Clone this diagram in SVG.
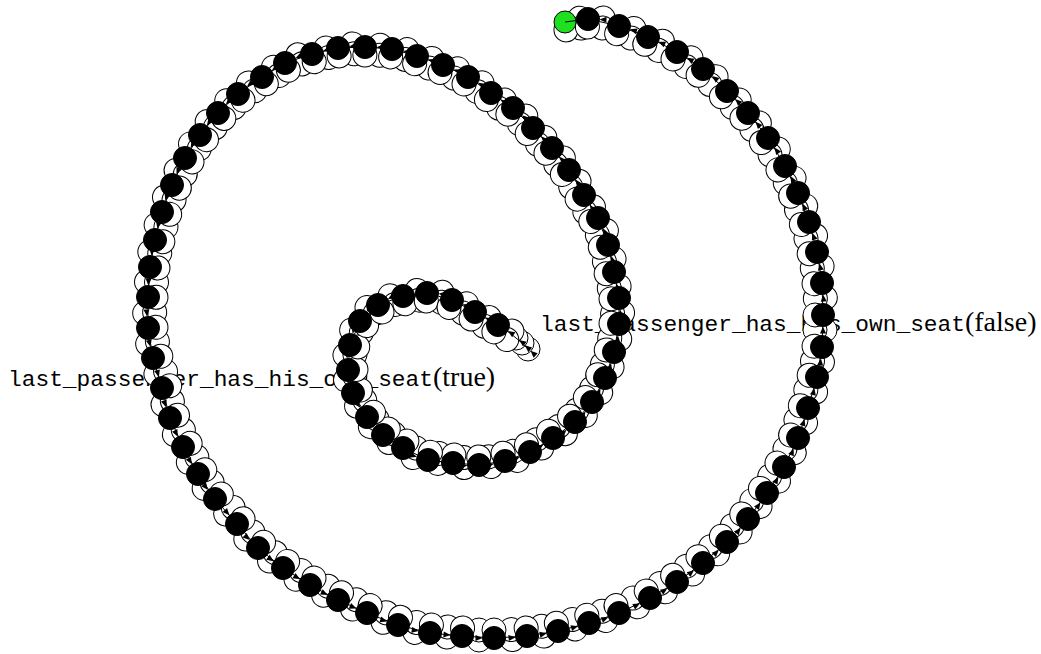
<svg xmlns="http://www.w3.org/2000/svg" xmlns:xlink="http://www.w3.org/1999/xlink" width="1041" height="654" viewBox="0 0 1041 654">
<style>
.w{fill:#fff;stroke:#000;stroke-width:1}
.b{fill:#000;stroke:#000;stroke-width:1}
.g{fill:#1fe01f;stroke:#000;stroke-width:1}
.e{fill:none;stroke:#000;stroke-width:1;marker-mid:url(#ah);marker-end:url(#ah)}
.lbl{fill:#000}
.mono{font-family:"Liberation Mono","DejaVu Sans Mono",monospace;font-size:22.85px}
.rm{font-family:"Liberation Serif","DejaVu Serif",serif;font-size:28px}
</style>
<defs>
<g id="wp"><circle class="w" cx="15" cy="-2" r="12"/><circle class="w" cx="15" cy="8" r="12"/><circle class="w" cx="0" cy="8" r="12"/></g>
<marker id="ah" markerUnits="userSpaceOnUse" orient="auto" refX="11.5" refY="0" markerWidth="10" markerHeight="10" overflow="visible"><path d="M0,0 L-7,-3 L-7,3 Z" fill="#000"/></marker>
</defs>
<g id="labels">
<text class="lbl" x="8" y="386"><tspan class="mono">last_passenger_has_his_own_seat</tspan><tspan class="rm">(true)</tspan></text>
<text class="lbl" x="540" y="331"><tspan class="mono">last_passenger_has_his_own_seat</tspan><tspan class="rm">(false)</tspan></text>
</g>
<g id="halo">
<circle class="w" cx="528" cy="349" r="12"/><circle class="w" cx="522" cy="343" r="12"/><circle class="w" cx="516" cy="338" r="12"/><circle class="w" cx="510" cy="333" r="12"/>
<use href="#wp" transform="translate(565 22) rotate(-7)"/>
<use href="#wp" transform="translate(588 19) rotate(4)"/>
<use href="#wp" transform="translate(619 26) rotate(17)"/>
<use href="#wp" transform="translate(648 37) rotate(24)"/>
<use href="#wp" transform="translate(677 52) rotate(30)"/>
<use href="#wp" transform="translate(703 69) rotate(38)"/>
<use href="#wp" transform="translate(727 91) rotate(44)"/>
<use href="#wp" transform="translate(748 113) rotate(49)"/>
<use href="#wp" transform="translate(768 138) rotate(55)"/>
<use href="#wp" transform="translate(785 166) rotate(61)"/>
<use href="#wp" transform="translate(798 193) rotate(67)"/>
<use href="#wp" transform="translate(809 222) rotate(72)"/>
<use href="#wp" transform="translate(817 252) rotate(78)"/>
<use href="#wp" transform="translate(822 283) rotate(85)"/>
<use href="#wp" transform="translate(823 315) rotate(90)"/>
<use href="#wp" transform="translate(822 347) rotate(96)"/>
<use href="#wp" transform="translate(817 377) rotate(103)"/>
<use href="#wp" transform="translate(808 408) rotate(107)"/>
<use href="#wp" transform="translate(798 438) rotate(112)"/>
<use href="#wp" transform="translate(784 467) rotate(119)"/>
<use href="#wp" transform="translate(767 493) rotate(125)"/>
<use href="#wp" transform="translate(748 519) rotate(129)"/>
<use href="#wp" transform="translate(727 542) rotate(136)"/>
<use href="#wp" transform="translate(703 563) rotate(141)"/>
<use href="#wp" transform="translate(677 582) rotate(147)"/>
<use href="#wp" transform="translate(650 598) rotate(152)"/>
<use href="#wp" transform="translate(619 613) rotate(158)"/>
<use href="#wp" transform="translate(589 623) rotate(164)"/>
<use href="#wp" transform="translate(558 631) rotate(168)"/>
<use href="#wp" transform="translate(527 636) rotate(174)"/>
<use href="#wp" transform="translate(494 638) rotate(180)"/>
<use href="#wp" transform="translate(462 636) rotate(184)"/>
<use href="#wp" transform="translate(430 633) rotate(190)"/>
<use href="#wp" transform="translate(398 625) rotate(198)"/>
<use href="#wp" transform="translate(367 613) rotate(203)"/>
<use href="#wp" transform="translate(338 600) rotate(206)"/>
<use href="#wp" transform="translate(310 585) rotate(210)"/>
<use href="#wp" transform="translate(283 568) rotate(215)"/>
<use href="#wp" transform="translate(258 548) rotate(224)"/>
<use href="#wp" transform="translate(237 524) rotate(229)"/>
<use href="#wp" transform="translate(215 499) rotate(232)"/>
<use href="#wp" transform="translate(198 474) rotate(238)"/>
<use href="#wp" transform="translate(183 447) rotate(243)"/>
<use href="#wp" transform="translate(170 418) rotate(250)"/>
<use href="#wp" transform="translate(162 388) rotate(254)"/>
<use href="#wp" transform="translate(153 358) rotate(257)"/>
<use href="#wp" transform="translate(148 328) rotate(265)"/>
<use href="#wp" transform="translate(148 297) rotate(272)"/>
<use href="#wp" transform="translate(150 267) rotate(277)"/>
<use href="#wp" transform="translate(155 240) rotate(282)"/>
<use href="#wp" transform="translate(162 212) rotate(287)"/>
<use href="#wp" transform="translate(172 185) rotate(293)"/>
<use href="#wp" transform="translate(185 158) rotate(299)"/>
<use href="#wp" transform="translate(200 135) rotate(306)"/>
<use href="#wp" transform="translate(218 113) rotate(313)"/>
<use href="#wp" transform="translate(238 94) rotate(321)"/>
<use href="#wp" transform="translate(262 77) rotate(327)"/>
<use href="#wp" transform="translate(285 63) rotate(335)"/>
<use href="#wp" transform="translate(312 54) rotate(344)"/>
<use href="#wp" transform="translate(338 48) rotate(352)"/>
<use href="#wp" transform="translate(365 47) rotate(1)"/>
<use href="#wp" transform="translate(392 49) rotate(10)"/>
<use href="#wp" transform="translate(417 56) rotate(17)"/>
<use href="#wp" transform="translate(443 65) rotate(22)"/>
<use href="#wp" transform="translate(468 77) rotate(30)"/>
<use href="#wp" transform="translate(491 93) rotate(35)"/>
<use href="#wp" transform="translate(513 108) rotate(40)"/>
<use href="#wp" transform="translate(533 128) rotate(46)"/>
<use href="#wp" transform="translate(552 148) rotate(49)"/>
<use href="#wp" transform="translate(569 170) rotate(56)"/>
<use href="#wp" transform="translate(584 195) rotate(59)"/>
<use href="#wp" transform="translate(598 218) rotate(64)"/>
<use href="#wp" transform="translate(608 245) rotate(74)"/>
<use href="#wp" transform="translate(614 272) rotate(78)"/>
<use href="#wp" transform="translate(619 298) rotate(84)"/>
<use href="#wp" transform="translate(619 324) rotate(95)"/>
<use href="#wp" transform="translate(614 352) rotate(105)"/>
<use href="#wp" transform="translate(605 378) rotate(114)"/>
<use href="#wp" transform="translate(592 402) rotate(124)"/>
<use href="#wp" transform="translate(575 422) rotate(137)"/>
<use href="#wp" transform="translate(553 438) rotate(146)"/>
<use href="#wp" transform="translate(530 452) rotate(154)"/>
<use href="#wp" transform="translate(505 461) rotate(166)"/>
<use href="#wp" transform="translate(479 465) rotate(178)"/>
<use href="#wp" transform="translate(453 463) rotate(186)"/>
<use href="#wp" transform="translate(428 460) rotate(197)"/>
<use href="#wp" transform="translate(403 448) rotate(209)"/>
<use href="#wp" transform="translate(383 435) rotate(221)"/>
<use href="#wp" transform="translate(367 417) rotate(234)"/>
<use href="#wp" transform="translate(353 393) rotate(248)"/>
<use href="#wp" transform="translate(348 370) rotate(266)"/>
<use href="#wp" transform="translate(350 345) rotate(284)"/>
<use href="#wp" transform="translate(360 321) rotate(305)"/>
<use href="#wp" transform="translate(378 305) rotate(330)"/>
<use href="#wp" transform="translate(403 296) rotate(346)"/>
<use href="#wp" transform="translate(427 293) rotate(5)"/>
<use href="#wp" transform="translate(452 300) rotate(22)"/>
<use href="#wp" transform="translate(475 312) rotate(29)"/>
<use href="#wp" transform="translate(498 325) rotate(31)"/>
</g>
<g id="nodes">
<g id="start"><circle class="g" cx="565" cy="22" r="11"/></g>
<g id="n1"><circle class="b" cx="588" cy="19" r="11.5"/></g>
<g id="n2"><circle class="b" cx="619" cy="26" r="11.5"/></g>
<g id="n3"><circle class="b" cx="648" cy="37" r="11.5"/></g>
<g id="n4"><circle class="b" cx="677" cy="52" r="11.5"/></g>
<g id="n5"><circle class="b" cx="703" cy="69" r="11.5"/></g>
<g id="n6"><circle class="b" cx="727" cy="91" r="11.5"/></g>
<g id="n7"><circle class="b" cx="748" cy="113" r="11.5"/></g>
<g id="n8"><circle class="b" cx="768" cy="138" r="11.5"/></g>
<g id="n9"><circle class="b" cx="785" cy="166" r="11.5"/></g>
<g id="n10"><circle class="b" cx="798" cy="193" r="11.5"/></g>
<g id="n11"><circle class="b" cx="809" cy="222" r="11.5"/></g>
<g id="n12"><circle class="b" cx="817" cy="252" r="11.5"/></g>
<g id="n13"><circle class="b" cx="822" cy="283" r="11.5"/></g>
<g id="n14"><circle class="b" cx="823" cy="315" r="11.5"/></g>
<g id="n15"><circle class="b" cx="822" cy="347" r="11.5"/></g>
<g id="n16"><circle class="b" cx="817" cy="377" r="11.5"/></g>
<g id="n17"><circle class="b" cx="808" cy="408" r="11.5"/></g>
<g id="n18"><circle class="b" cx="798" cy="438" r="11.5"/></g>
<g id="n19"><circle class="b" cx="784" cy="467" r="11.5"/></g>
<g id="n20"><circle class="b" cx="767" cy="493" r="11.5"/></g>
<g id="n21"><circle class="b" cx="748" cy="519" r="11.5"/></g>
<g id="n22"><circle class="b" cx="727" cy="542" r="11.5"/></g>
<g id="n23"><circle class="b" cx="703" cy="563" r="11.5"/></g>
<g id="n24"><circle class="b" cx="677" cy="582" r="11.5"/></g>
<g id="n25"><circle class="b" cx="650" cy="598" r="11.5"/></g>
<g id="n26"><circle class="b" cx="619" cy="613" r="11.5"/></g>
<g id="n27"><circle class="b" cx="589" cy="623" r="11.5"/></g>
<g id="n28"><circle class="b" cx="558" cy="631" r="11.5"/></g>
<g id="n29"><circle class="b" cx="527" cy="636" r="11.5"/></g>
<g id="n30"><circle class="b" cx="494" cy="638" r="11.5"/></g>
<g id="n31"><circle class="b" cx="462" cy="636" r="11.5"/></g>
<g id="n32"><circle class="b" cx="430" cy="633" r="11.5"/></g>
<g id="n33"><circle class="b" cx="398" cy="625" r="11.5"/></g>
<g id="n34"><circle class="b" cx="367" cy="613" r="11.5"/></g>
<g id="n35"><circle class="b" cx="338" cy="600" r="11.5"/></g>
<g id="n36"><circle class="b" cx="310" cy="585" r="11.5"/></g>
<g id="n37"><circle class="b" cx="283" cy="568" r="11.5"/></g>
<g id="n38"><circle class="b" cx="258" cy="548" r="11.5"/></g>
<g id="n39"><circle class="b" cx="237" cy="524" r="11.5"/></g>
<g id="n40"><circle class="b" cx="215" cy="499" r="11.5"/></g>
<g id="n41"><circle class="b" cx="198" cy="474" r="11.5"/></g>
<g id="n42"><circle class="b" cx="183" cy="447" r="11.5"/></g>
<g id="n43"><circle class="b" cx="170" cy="418" r="11.5"/></g>
<g id="n44"><circle class="b" cx="162" cy="388" r="11.5"/></g>
<g id="n45"><circle class="b" cx="153" cy="358" r="11.5"/></g>
<g id="n46"><circle class="b" cx="148" cy="328" r="11.5"/></g>
<g id="n47"><circle class="b" cx="148" cy="297" r="11.5"/></g>
<g id="n48"><circle class="b" cx="150" cy="267" r="11.5"/></g>
<g id="n49"><circle class="b" cx="155" cy="240" r="11.5"/></g>
<g id="n50"><circle class="b" cx="162" cy="212" r="11.5"/></g>
<g id="n51"><circle class="b" cx="172" cy="185" r="11.5"/></g>
<g id="n52"><circle class="b" cx="185" cy="158" r="11.5"/></g>
<g id="n53"><circle class="b" cx="200" cy="135" r="11.5"/></g>
<g id="n54"><circle class="b" cx="218" cy="113" r="11.5"/></g>
<g id="n55"><circle class="b" cx="238" cy="94" r="11.5"/></g>
<g id="n56"><circle class="b" cx="262" cy="77" r="11.5"/></g>
<g id="n57"><circle class="b" cx="285" cy="63" r="11.5"/></g>
<g id="n58"><circle class="b" cx="312" cy="54" r="11.5"/></g>
<g id="n59"><circle class="b" cx="338" cy="48" r="11.5"/></g>
<g id="n60"><circle class="b" cx="365" cy="47" r="11.5"/></g>
<g id="n61"><circle class="b" cx="392" cy="49" r="11.5"/></g>
<g id="n62"><circle class="b" cx="417" cy="56" r="11.5"/></g>
<g id="n63"><circle class="b" cx="443" cy="65" r="11.5"/></g>
<g id="n64"><circle class="b" cx="468" cy="77" r="11.5"/></g>
<g id="n65"><circle class="b" cx="491" cy="93" r="11.5"/></g>
<g id="n66"><circle class="b" cx="513" cy="108" r="11.5"/></g>
<g id="n67"><circle class="b" cx="533" cy="128" r="11.5"/></g>
<g id="n68"><circle class="b" cx="552" cy="148" r="11.5"/></g>
<g id="n69"><circle class="b" cx="569" cy="170" r="11.5"/></g>
<g id="n70"><circle class="b" cx="584" cy="195" r="11.5"/></g>
<g id="n71"><circle class="b" cx="598" cy="218" r="11.5"/></g>
<g id="n72"><circle class="b" cx="608" cy="245" r="11.5"/></g>
<g id="n73"><circle class="b" cx="614" cy="272" r="11.5"/></g>
<g id="n74"><circle class="b" cx="619" cy="298" r="11.5"/></g>
<g id="n75"><circle class="b" cx="619" cy="324" r="11.5"/></g>
<g id="n76"><circle class="b" cx="614" cy="352" r="11.5"/></g>
<g id="n77"><circle class="b" cx="605" cy="378" r="11.5"/></g>
<g id="n78"><circle class="b" cx="592" cy="402" r="11.5"/></g>
<g id="n79"><circle class="b" cx="575" cy="422" r="11.5"/></g>
<g id="n80"><circle class="b" cx="553" cy="438" r="11.5"/></g>
<g id="n81"><circle class="b" cx="530" cy="452" r="11.5"/></g>
<g id="n82"><circle class="b" cx="505" cy="461" r="11.5"/></g>
<g id="n83"><circle class="b" cx="479" cy="465" r="11.5"/></g>
<g id="n84"><circle class="b" cx="453" cy="463" r="11.5"/></g>
<g id="n85"><circle class="b" cx="428" cy="460" r="11.5"/></g>
<g id="n86"><circle class="b" cx="403" cy="448" r="11.5"/></g>
<g id="n87"><circle class="b" cx="383" cy="435" r="11.5"/></g>
<g id="n88"><circle class="b" cx="367" cy="417" r="11.5"/></g>
<g id="n89"><circle class="b" cx="353" cy="393" r="11.5"/></g>
<g id="n90"><circle class="b" cx="348" cy="370" r="11.5"/></g>
<g id="n91"><circle class="b" cx="350" cy="345" r="11.5"/></g>
<g id="n92"><circle class="b" cx="360" cy="321" r="11.5"/></g>
<g id="n93"><circle class="b" cx="378" cy="305" r="11.5"/></g>
<g id="n94"><circle class="b" cx="403" cy="296" r="11.5"/></g>
<g id="n95"><circle class="b" cx="427" cy="293" r="11.5"/></g>
<g id="n96"><circle class="b" cx="452" cy="300" r="11.5"/></g>
<g id="n97"><circle class="b" cx="475" cy="312" r="11.5"/></g>
<g id="n98"><circle class="b" cx="498" cy="325" r="11.5"/></g>
</g>
<g id="connectors">
<path class="e" d="M528 349 L522 343 L516 338 L510 333 L498 325 L475 312 L452 300 L427 293 L403 296 L378 305 L360 321 L350 345 L348 370 L353 393 L367 417 L383 435 L403 448 L428 460 L453 463 L479 465 L505 461 L530 452 L553 438 L575 422 L592 402 L605 378 L614 352 L619 324 L619 298 L614 272 L608 245 L598 218 L584 195 L569 170 L552 148 L533 128 L513 108 L491 93 L468 77 L443 65 L417 56 L392 49 L365 47 L338 48 L312 54 L285 63 L262 77 L238 94 L218 113 L200 135 L185 158 L172 185 L162 212 L155 240 L150 267 L148 297 L148 328 L153 358 L162 388 L170 418 L183 447 L198 474 L215 499 L237 524 L258 548 L283 568 L310 585 L338 600 L367 613 L398 625 L430 633 L462 636 L494 638 L527 636 L558 631 L589 623 L619 613 L650 598 L677 582 L703 563 L727 542 L748 519 L767 493 L784 467 L798 438 L808 408 L817 377 L822 347 L823 315 L822 283 L817 252 L809 222 L798 193 L785 166 L768 138 L748 113 L727 91 L703 69 L677 52 L648 37 L619 26 L588 19 L565 22"/>
</g>
</svg>
